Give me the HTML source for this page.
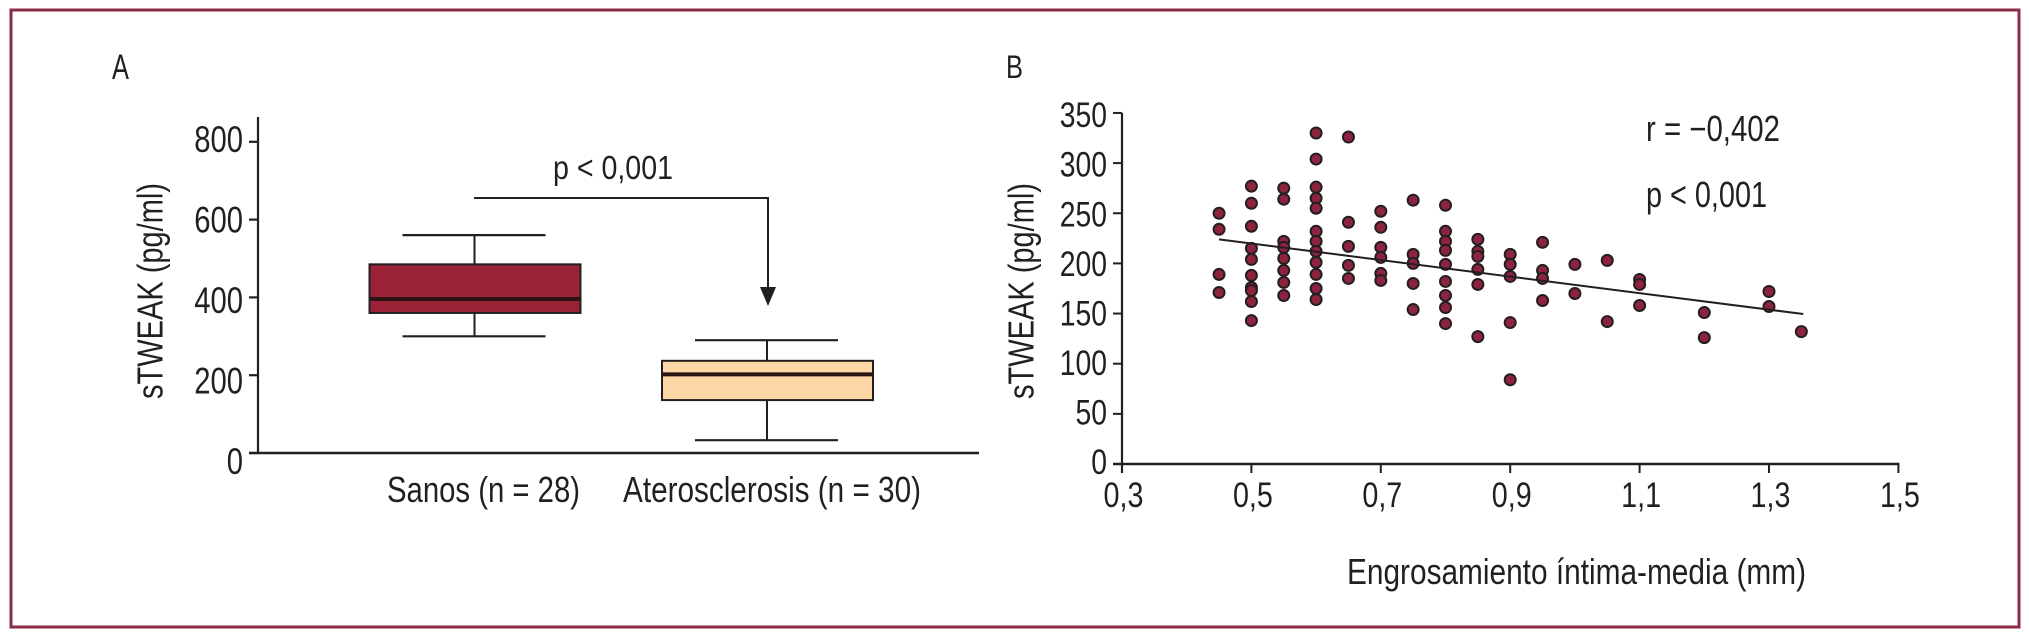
<!DOCTYPE html>
<html lang="es">
<head>
<meta charset="utf-8">
<title>sTWEAK</title>
<style>
html,body{margin:0;padding:0;background:#fff;}
svg{display:block;}
text{font-family:"Liberation Sans",sans-serif;fill:#231f20;}
</style>
</head>
<body>
<svg id="fig" xmlns="http://www.w3.org/2000/svg" width="2029" height="641" viewBox="0 0 2029 641">
  <rect x="11" y="10" width="2008" height="617" fill="none" stroke="#8b2b45" stroke-width="3"/>
  <text x="112" y="79" font-size="35" textLength="17" lengthAdjust="spacingAndGlyphs">A</text>
  <text x="1006" y="78" font-size="32" textLength="17" lengthAdjust="spacingAndGlyphs">B</text>
  <text transform="translate(162.5 399) rotate(-90)" font-size="36" textLength="216" lengthAdjust="spacingAndGlyphs">sTWEAK (pg/ml)</text>
  <text transform="translate(1033.5 399) rotate(-90)" font-size="36" textLength="216" lengthAdjust="spacingAndGlyphs">sTWEAK (pg/ml)</text>
  <text x="1347" y="584" font-size="36" textLength="459" lengthAdjust="spacingAndGlyphs">Engrosamiento íntima-media (mm)</text>
  <text x="553" y="179" font-size="33" textLength="120" lengthAdjust="spacingAndGlyphs">p &lt; 0,001</text>
  <text x="1646" y="141" font-size="36" textLength="134" lengthAdjust="spacingAndGlyphs">r = −0,402</text>
  <text x="1646" y="207" font-size="36" textLength="121" lengthAdjust="spacingAndGlyphs">p &lt; 0,001</text>
  <g>
    <path d="M474 198H768V290" fill="none" stroke="#231f20" stroke-width="2"/>
    <path d="M760 287H776L768 306Z" fill="#231f20"/>
  </g>
  <g id="panelA"></g>
  <g id="panelB"></g>
</svg>
<script>
// Panel A data
const boxCategories = ["Sanos (n = 28)", "Aterosclerosis (n = 30)"];
const boxQ1 = [360, 136];
const boxMedian = [396, 202];
const boxQ3 = [485, 237];
const boxWhiskerLow = [300, 33];
const boxWhiskerHigh = [560, 290];
const boxFills = ["#9b2338", "#fdd7a6"];
const boxTicks = [0, 200, 400, 600, 800];

// Panel B data
const scatterXTicks = [0.3, 0.5, 0.7, 0.9, 1.1, 1.3, 1.5];
const scatterYTicks = [0, 50, 100, 150, 200, 250, 300, 350];
const scatterX = [
  0.45,0.45,0.45,0.45,
  0.5,0.5,0.5,0.5,0.5,0.5,0.5,0.5,0.5,0.5,
  0.55,0.55,0.55,0.55,0.55,0.55,0.55,0.55,
  0.6,0.6,0.6,0.6,0.6,0.6,0.6,0.6,0.6,0.6,0.6,0.6,
  0.65,0.65,0.65,0.65,0.65,
  0.7,0.7,0.7,0.7,0.7,0.7,
  0.75,0.75,0.75,0.75,0.75,
  0.8,0.8,0.8,0.8,0.8,0.8,0.8,0.8,0.8,
  0.85,0.85,0.85,0.85,0.85,0.85,
  0.9,0.9,0.9,0.9,0.9,
  0.95,0.95,0.95,0.95,
  1.0,1.0,
  1.05,1.05,
  1.1,1.1,1.1,
  1.2,1.2,
  1.3,1.3,
  1.35
];
const scatterY = [
  250,234,189,171,
  277,260,237,215,204,188,176,173,162,143,
  275,264,222,216,205,193,181,168,
  330,304,276,265,255,232,222,212,201,189,175,164,
  326,241,217,198,185,
  252,236,216,206,190,183,
  263,209,200,180,154,
  258,232,222,213,199,182,168,156,140,
  224,212,207,194,179,127,
  209,199,187,141,84,
  221,193,185,163,
  199,170,
  203,142,
  184,179,158,
  151,126,
  172,157,
  132
];
const trendX = [0.45, 1.353];
const trendY = [224, 149.5];

const NS = "http://www.w3.org/2000/svg";
function mk(parent, tag, attrs) {
  const el = document.createElementNS(NS, tag);
  for (const k in attrs) el.setAttribute(k, attrs[k]);
  parent.appendChild(el);
  return el;
}
const ink = "#231f20";

// Panel A scales
const ayScale = v => 453 - v * 0.389;
const ayLabel = v => 474 - v * 0.4025;
const axCenter = i => 474.5 + i * 292.5;
const gA = document.getElementById("panelA");

const aYAxis = mk(gA, "line", {x1:258, x2:258, y1:117, y2:ayScale(0)+1, stroke:ink, "stroke-width":2.2});


const aXAxis = mk(gA, "line", {x1:249, x2:979, y1:ayScale(0), y2:ayScale(0), stroke:ink, "stroke-width":2.5});



boxTicks.forEach(v => {
  const t = mk(gA, "line", {x1:249, x2:258, y1:ayScale(v), y2:ayScale(v), stroke:ink, "stroke-width":2.2});
  
  
  const l = mk(gA, "text", {transform:`translate(243 ${ayLabel(v)}) scale(0.79 1)`, "text-anchor":"end", "font-size":37});
  
  
  l.textContent = String(v);
});

boxCategories.forEach((name, i) => {
  const c = axCenter(i);
  const g = mk(gA, "g", {});
  
  
  const stem = mk(g, "line", {x1:c, x2:c, y1:ayScale(boxWhiskerHigh[i]), y2:ayScale(boxWhiskerLow[i]), stroke:ink, "stroke-width":2});
  
  
  [boxWhiskerHigh[i], boxWhiskerLow[i]].forEach(w => {
    const cap = mk(g, "line", {x1:c-72, x2:c+71, y1:ayScale(w), y2:ayScale(w), stroke:ink, "stroke-width":2.2});
    
    
  });
  const rect = mk(g, "rect", {x:c-105, width:211, y:ayScale(boxQ3[i]), height:ayScale(boxQ1[i])-ayScale(boxQ3[i]), fill:boxFills[i], stroke:ink, "stroke-width":2});
  
  
  const med = mk(g, "line", {x1:c-105, x2:c+106, y1:ayScale(boxMedian[i]), y2:ayScale(boxMedian[i]), stroke:"#2a1515", "stroke-width":4});
  
  
  const lab = mk(g, "text", i === 0
    ? {x:387, y:502, "font-size":36, textLength:193, lengthAdjust:"spacingAndGlyphs"}
    : {x:623, y:502, "font-size":36, textLength:298, lengthAdjust:"spacingAndGlyphs"});
  
  
  lab.textContent = name;
});

// Panel B scales
const bx = v => 1122 + (v - 0.3) * 647;
const by = v => 464 - v * 1.003;
const byLabel = v => 474 - v * 0.991;
const gB = document.getElementById("panelB");

const bYAxis = mk(gB, "line", {x1:bx(0.3), x2:bx(0.3), y1:by(350), y2:473, stroke:ink, "stroke-width":2.2});


const bXAxis = mk(gB, "line", {x1:1113, x2:bx(1.5)+1, y1:by(0), y2:by(0), stroke:ink, "stroke-width":2.5});



scatterYTicks.forEach(v => {
  const t = mk(gB, "line", {x1:1113, x2:bx(0.3), y1:by(v), y2:by(v), stroke:ink, "stroke-width":2});
  
  
  const l = mk(gB, "text", {transform:`translate(1107 ${byLabel(v)}) scale(0.81 1)`, "text-anchor":"end", "font-size":35});
  
  
  l.textContent = String(v);
});
scatterXTicks.forEach(v => {
  const t = mk(gB, "line", {x1:bx(v), x2:bx(v), y1:by(0), y2:473, stroke:ink, "stroke-width":2});
  
  
  const l = mk(gB, "text", {transform:`translate(${bx(v)+1.5} 507) scale(0.82 1)`, "text-anchor":"middle", "font-size":35});
  
  
  l.textContent = v.toFixed(1).replace(".", ",");
});

scatterX.forEach((x, i) => {
  const p = mk(gB, "circle", {cx:bx(x), cy:by(scatterY[i]), r:5.5, fill:"#8e2340", stroke:"#231f20", "stroke-width":2});
  
  
});

const trend = mk(gB, "line", {x1:bx(trendX[0]), y1:by(trendY[0]), x2:bx(trendX[1]), y2:by(trendY[1]), stroke:"#231f20", "stroke-width":2});


</script>
</body>
</html>
